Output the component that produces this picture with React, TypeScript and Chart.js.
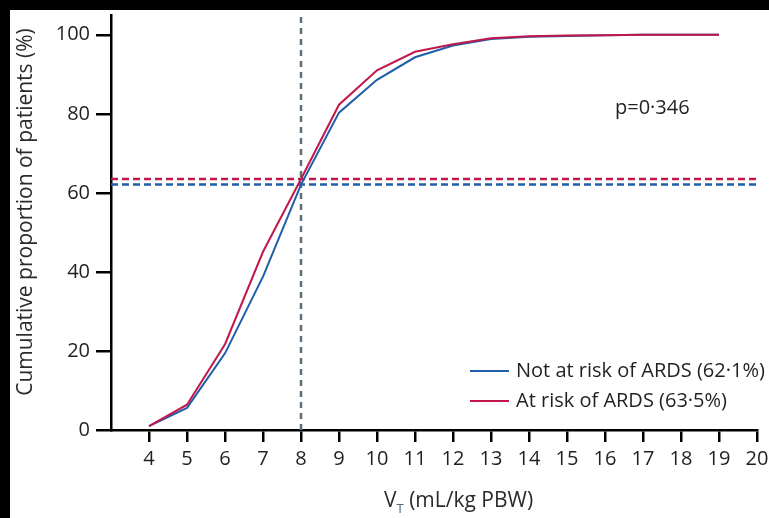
import React, { useEffect, useRef } from "react";
import { Chart, registerables } from "chart.js";

Chart.register(...registerables);

// Tidal volume (mL/kg predicted body weight) at which cumulative proportion is read
const tidalVolumes = [4, 5, 6, 7, 8, 9, 10, 11, 12, 13, 14, 15, 16, 17, 18, 19];
// Cumulative proportion of patients (%), not at risk of ARDS
const notAtRisk = [1.0, 5.6, 19.4, 38.8, 62.1, 80.3, 88.6, 94.3, 97.3, 98.9, 99.5, 99.7, 99.9, 100, 100, 100];
// Cumulative proportion of patients (%), at risk of ARDS
const atRisk = [1.0, 6.4, 21.7, 45.1, 63.5, 82.3, 91.0, 95.7, 97.6, 99.1, 99.6, 99.8, 99.9, 100, 100, 100];

// Reference markers
const cutoffVolume = 8;
const notAtRiskAtCutoff = 62.1;
const atRiskAtCutoff = 63.5;
const pValueText = "p=0·346";

const xTickValues = [4, 5, 6, 7, 8, 9, 10, 11, 12, 13, 14, 15, 16, 17, 18, 19, 20];
const yTickValues = [0, 20, 40, 60, 80, 100];
const xRange = [3, 20];
const yRange = [0, 105];

const seriesLabels = ["Not at risk of ARDS (62·1%)", "At risk of ARDS (63·5%)"];
const BLUE = "#1f5ea8";
const RED = "#c2174b";
const GREY = "#5b7078";
const TEXT = "#231f20";
const FONT = "'Open Sans', 'Noto Sans', sans-serif";

const W = 769;
const H = 518;

const decorPlugin = {
  id: "decor",
  beforeDraw(chart: any) {
    const ctx = chart.ctx;
    ctx.save();
    ctx.fillStyle = "#000";
    ctx.fillRect(0, 0, W, H);
    ctx.fillStyle = "#fff";
    ctx.fillRect(10, 10, W - 10, H - 10);
    ctx.restore();
  },
  afterDraw(chart: any) {
    const ctx = chart.ctx;
    ctx.save();
    ctx.textBaseline = "alphabetic";

    // y-axis title
    ctx.save();
    ctx.translate(32, 212);
    ctx.rotate(-Math.PI / 2);
    ctx.textAlign = "center";
    ctx.font = `21px ${FONT}`;
    ctx.fillStyle = "#2b2b2b";
    ctx.fillText("Cumulative proportion of patients (%)", 0, 0);
    ctx.restore();

    // x-axis title with subscript
    ctx.font = `21px ${FONT}`;
    ctx.textAlign = "left";
    ctx.fillStyle = "#2b2b2b";
    let x = 384;
    ctx.fillText("V", x, 507);
    x += ctx.measureText("V").width;
    ctx.font = `13px ${FONT}`;
    ctx.fillStyle = "#4a6a78";
    ctx.fillText("T", x, 513);
    x += ctx.measureText("T").width;
    ctx.font = `21px ${FONT}`;
    ctx.fillStyle = "#2b2b2b";
    ctx.fillText(" (mL/kg PBW)", x, 507);

    // p value
    ctx.fillStyle = TEXT;
    ctx.font = `20px ${FONT}`;
    ctx.fillText(pValueText, 615, 114);

    // legend
    const items = [
      { label: seriesLabels[0], color: BLUE, y: 371 },
      { label: seriesLabels[1], color: RED, y: 401 },
    ];
    items.forEach((it) => {
      ctx.strokeStyle = it.color;
      ctx.lineWidth = 2;
      ctx.beginPath();
      ctx.moveTo(470, it.y);
      ctx.lineTo(509, it.y);
      ctx.stroke();
      ctx.fillStyle = TEXT;
      ctx.font = `20px ${FONT}`;
      ctx.textBaseline = "middle";
      ctx.fillText(it.label, 516, it.y);
    });
    ctx.restore();
  },
};

export default function App() {
  const canvasRef = useRef<HTMLCanvasElement | null>(null);

  useEffect(() => {
    document.body.style.margin = "0";
    const canvas = canvasRef.current;
    if (!canvas) return;

    const toPoints = (ys: number[]) => tidalVolumes.map((v, i) => ({ x: v, y: ys[i] }));

    const chart = new Chart(canvas, {
      type: "line",
      data: {
        datasets: [
          {
            label: seriesLabels[1],
            data: toPoints(atRisk),
            borderColor: RED,
            borderWidth: 2,
            pointRadius: 0,
            tension: 0,
            order: 0,
          },
          {
            label: seriesLabels[0],
            data: toPoints(notAtRisk),
            borderColor: BLUE,
            borderWidth: 2,
            pointRadius: 0,
            tension: 0,
            order: 1,
          },
          {
            label: "cutoff",
            data: [
              { x: cutoffVolume, y: yRange[0] },
              { x: cutoffVolume, y: yRange[1] },
            ],
            borderColor: GREY,
            borderWidth: 2.5,
            borderDash: [6, 5],
            pointRadius: 0,
            order: 2,
          },
          {
            label: "at risk at cutoff",
            data: [
              { x: xRange[0], y: atRiskAtCutoff },
              { x: xRange[1], y: atRiskAtCutoff },
            ],
            borderColor: RED,
            borderWidth: 2.5,
            borderDash: [7, 4],
            pointRadius: 0,
            order: 3,
          },
          {
            label: "not at risk at cutoff",
            data: [
              { x: xRange[0], y: notAtRiskAtCutoff },
              { x: xRange[1], y: notAtRiskAtCutoff },
            ],
            borderColor: BLUE,
            borderWidth: 2.5,
            borderDash: [7, 4],
            pointRadius: 0,
            order: 4,
          },
        ],
      },
      options: {
        responsive: false,
        animation: false,
        layout: { padding: { top: 15, right: 12, left: 0, bottom: 0 } },
        plugins: {
          legend: { display: false },
          tooltip: { enabled: false },
        },
        scales: {
          x: {
            type: "linear",
            min: xRange[0],
            max: xRange[1],
            afterBuildTicks: (scale: any) => {
              scale.ticks = xTickValues.map((v) => ({ value: v }));
            },
            afterFit: (scale: any) => {
              scale.height = 88;
              scale.paddingLeft = 0;
              scale.paddingRight = 0;
            },
            grid: {
              drawOnChartArea: false,
              drawTicks: true,
              tickLength: 12,
              color: "#000",
              lineWidth: 2.5,
            },
            border: { display: true, color: "#000", width: 2.5 },
            ticks: {
              padding: 5,
              color: TEXT,
              font: { family: FONT, size: 20 },
              maxRotation: 0,
              autoSkip: false,
            },
          },
          y: {
            type: "linear",
            min: yRange[0],
            max: yRange[1],
            afterBuildTicks: (scale: any) => {
              scale.ticks = yTickValues.map((v) => ({ value: v }));
            },
            afterFit: (scale: any) => {
              scale.width = 111;
              scale.paddingTop = 0;
              scale.paddingBottom = 0;
            },
            grid: {
              drawOnChartArea: false,
              drawTicks: true,
              tickLength: 15,
              color: "#000",
              lineWidth: 2.5,
            },
            border: { display: true, color: "#000", width: 2.5 },
            ticks: {
              padding: 6,
              color: TEXT,
              font: { family: FONT, size: 20 },
            },
          },
        },
      },
      plugins: [decorPlugin],
    });

    return () => chart.destroy();
  }, []);

  return (
    <div style={{ width: W, height: H, position: "relative" }}>
      <canvas ref={canvasRef} width={W} height={H} style={{ width: W, height: H, display: "block" }} />
    </div>
  );
}
